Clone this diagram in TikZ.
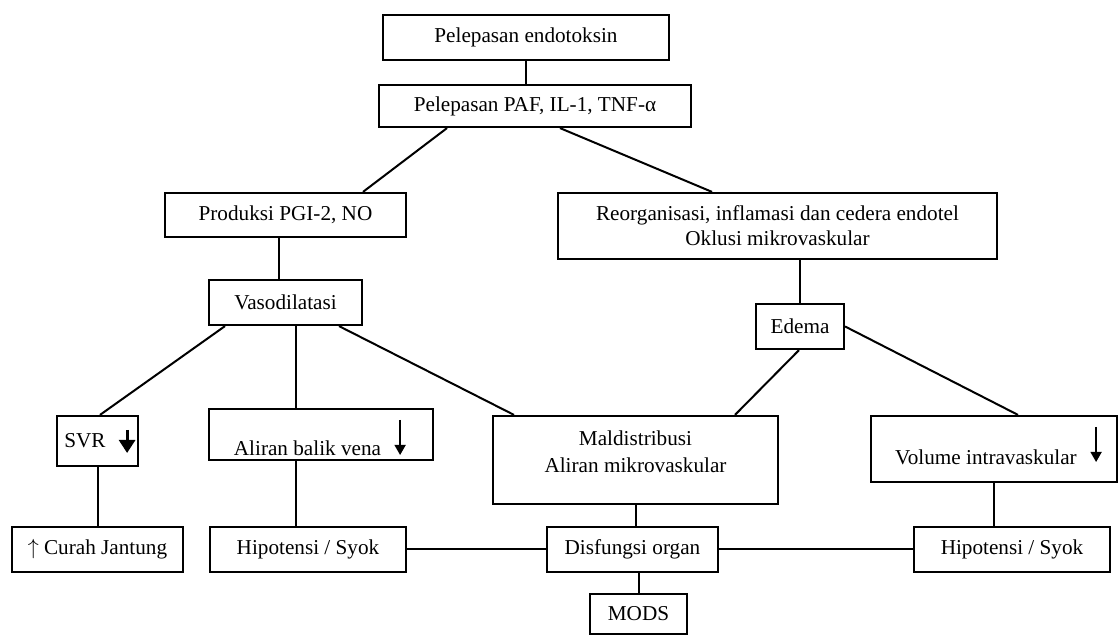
\documentclass[tikz,border=0pt]{standalone}
\usepackage{fontspec}
\setmainfont{Liberation Serif}
\usetikzlibrary{calc,arrows.meta}

\tikzset{
    kotak/.style={draw, line width=1.1pt, inner sep=0pt},
    garis/.style={line width=1pt},
    turun/.style={line width=0.75pt, -{Triangle[width=5.5pt,length=5pt]}},
    turuntebal/.style={line width=1.4pt, -{Triangle[width=8pt,length=6.5pt]}}
}

\begin{document}
\begin{tikzpicture}[x=0.5pt, y=-0.5pt, font=\fontsize{10.6}{12.5}\selectfont]
    \useasboundingbox (0,0) rectangle (1119,635);

    % Top
    \node[kotak, minimum width=143pt, minimum height=22.5pt] (endo) at (526,37.5) {Pelepasan endotoksin};
    \node[kotak, minimum width=156pt, minimum height=21pt] (paf) at (535,106) {Pelepasan PAF, IL-1, TNF-α};

    % Left branch
    \node[kotak, minimum width=120.5pt, minimum height=22pt] (pgi) at (285.5,215) {Produksi PGI-2, NO};
    \node[kotak, minimum width=76.5pt, minimum height=22.5pt] (vaso) at (285.5,302.5) {Vasodilatasi};
    \node[kotak, minimum width=40.5pt, minimum height=25pt,
        label={[xshift=-6.25pt]center:SVR}] (svr) at (97.5,441) {};
    \node[kotak, minimum width=112pt, minimum height=25.5pt,
        label={[xshift=-6.75pt, yshift=-6.75pt]center:Aliran balik vena}] (aliran) at (321,434.5) {};

    % Right branch
    \node[kotak, minimum width=219.5pt, minimum height=33pt, align=center] (reorg) at (777.5,226)
        {Reorganisasi, inflamasi dan cedera endotel\\Oklusi mikrovaskular};
    \node[kotak, minimum width=44pt, minimum height=22.5pt] (edema) at (800,326.5) {Edema};
    \node[kotak, minimum width=142.5pt, minimum height=44pt,
        label={[yshift=4.25pt, align=center, font=\fontsize{10.6}{13.5}\selectfont]center:Maldistribusi\\Aliran mikrovaskular}] (mald) at (635.5,460) {};
    \node[kotak, minimum width=123pt, minimum height=33pt,
        label={[xshift=-4pt, yshift=-4pt]center:Volume intravaskular}] (volume) at (994,449) {};

    % Bottom row
    \node[kotak, minimum width=85.5pt, minimum height=22.5pt] (curah) at (97.5,549.5) {$\uparrow$ Curah Jantung};
    \node[kotak, minimum width=98pt, minimum height=22.5pt] (hipo1) at (308,549.5) {Hipotensi / Syok};
    \node[kotak, minimum width=85.5pt, minimum height=22.5pt] (disf) at (632.5,549.5) {Disfungsi organ};
    \node[kotak, minimum width=98pt, minimum height=22.5pt] (hipo2) at (1012,549.5) {Hipotensi / Syok};
    \node[kotak, minimum width=48.5pt, minimum height=20pt] (mods) at (638.5,614) {MODS};

    % Connectors
    \draw[garis] (endo.south) -- (endo.south |- paf.north);
    \draw[garis] ($(paf.south)+(-88,0)$) -- ($(pgi.north)+(77.5,0)$);
    \draw[garis] ($(paf.south)+(25,0)$) -- ($(reorg.north)+(-65.5,0)$);
    \draw[garis] ($(pgi.south)+(-6.5,0)$) -- ($(vaso.north)+(-6.5,0)$);
    \draw[garis] (edema.north |- reorg.south) -- (edema.north);
    \draw[garis] ($(vaso.south)+(-60.5,0)$) -- ($(svr.north)+(2.5,0)$);
    \draw[garis] ($(vaso.south)+(10.5,0)$) -- ($(aliran.north)+(-25,0)$);
    \draw[garis] ($(vaso.south)+(53.5,0)$) -- ($(mald.north)+(-121.5,0)$);
    \draw[garis] ($(edema.south)+(-1,0)$) -- ($(mald.north)+(99.5,0)$);
    \draw[garis] (edema.east) -- ($(volume.north)+(24,0)$);
    \draw[garis] (svr.south) -- (curah.north);
    \draw[garis] ($(aliran.south)+(-25,0)$) -- ($(hipo1.north)+(-12,0)$);
    \draw[garis] (mald.south) -- (mald.south |- disf.north);
    \draw[garis] (volume.south) -- (volume.south |- hipo2.north);
    \draw[garis] (hipo1.east) -- (disf.west);
    \draw[garis] (disf.east) -- (hipo2.west);
    \draw[garis] (mods.north |- disf.south) -- (mods.north);

    % Down arrows
    \draw[turuntebal] ($(svr.east)+(-12,-11)$) -- ++(0,23);
    \draw[turun] ($(aliran.east)+(-34,-14.5)$) -- ++(0,35);
    \draw[turun] ($(volume.east)+(-22,-22)$) -- ++(0,35);

\end{tikzpicture}
\end{document}
